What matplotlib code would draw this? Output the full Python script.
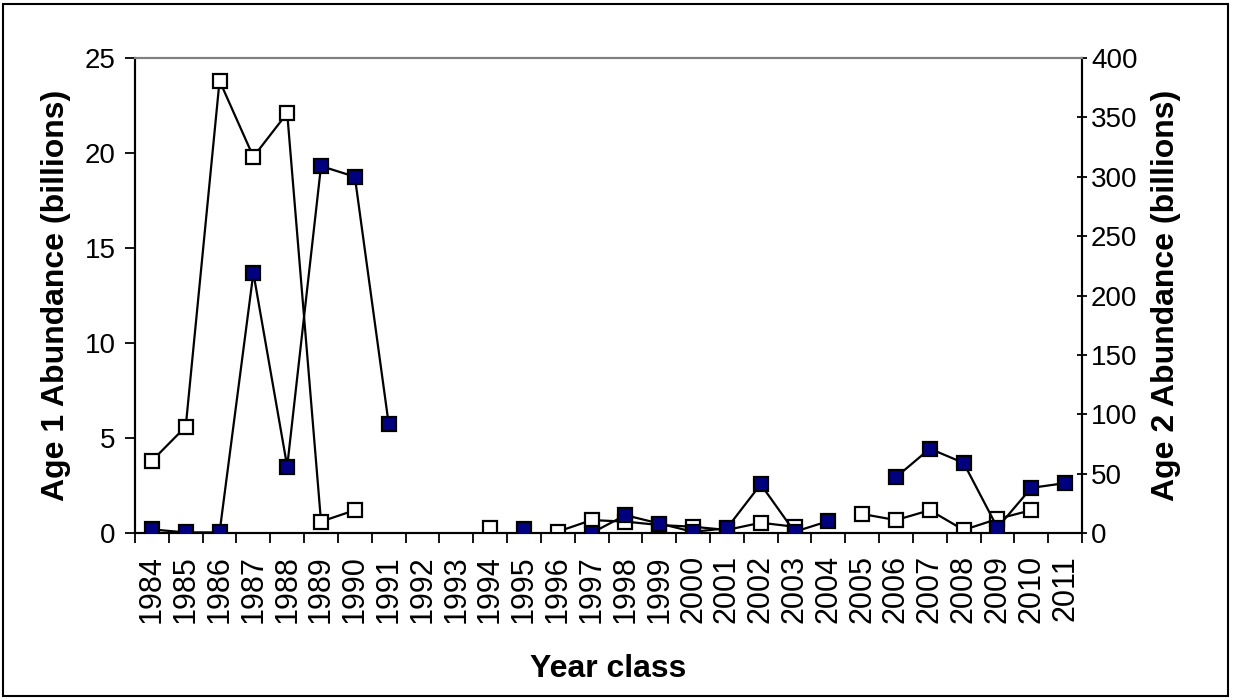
import numpy as np
import matplotlib.pyplot as plt
from matplotlib.patches import Rectangle

plt.rcParams["font.family"] = ["Liberation Sans", "DejaVu Sans"]

# year classes 1984..2011
years = list(range(1984, 2012))

# open squares, left axis (billions)
age1 = [3.8, 5.6, 23.8, 19.8, 22.1, 0.6, 1.2, None, None, None,
        0.28, None, 0.07, 0.68, 0.6, 0.42, 0.33, 0.16, 0.54, 0.33,
        None, 1.0, 0.68, 1.2, 0.16, 0.74, 1.2, None]

# filled squares, right axis (billions)
age2 = [3, 0.5, 0.5, 219, 56, 309, 300, 92, None, None,
        None, 3, None, 0, 15, 8, 1, 4, 41, 1,
        10, None, 47, 71, 59, 4.5, 38, 42]


def to_arr(vals):
    return np.array([np.nan if v is None else v for v in vals], dtype=float)


x = np.arange(len(years))
y1 = to_arr(age1)
y2 = to_arr(age2)

fig = plt.figure(figsize=(12.33, 7), dpi=100)
ax = fig.add_axes([135 / 1233, 1 - 533 / 700, (1082 - 135) / 1233, (533 - 58) / 700])
ax2 = ax.twinx()

ax.plot(x, y1, color="black", lw=1.6, marker="s", ms=10,
        mfc="white", mec="black", mew=1.6, zorder=3)
ax2.plot(x, y2, color="black", lw=1.6, marker="s", ms=10,
         mfc="#000080", mec="black", mew=1.6, zorder=3)

ax.set_xlim(-0.5, len(years) - 0.5)
ax.set_ylim(0, 25)
ax2.set_ylim(0, 400)
ax.set_yticks(np.arange(0, 26, 5))
ax2.set_yticks(np.arange(0, 401, 50))

ax.set_xticks(x)
ax.set_xticklabels([str(y) for y in years], rotation=90, fontsize=22)
ax.set_xticks(np.arange(-0.5, len(years)), minor=True)
ax.tick_params(axis="x", which="major", length=0, pad=16)
ax.tick_params(axis="x", which="minor", length=7, width=1.3, direction="out")
ax.tick_params(axis="y", length=7, width=1.3, direction="out", labelsize=20, pad=7)
ax2.tick_params(axis="y", length=7, width=1.3, direction="inout", labelsize=20, pad=3)

for a in (ax, ax2):
    a.spines["top"].set_color("#808080")
    a.spines["top"].set_linewidth(1.5)
    for s in ("left", "right", "bottom"):
        a.spines[s].set_linewidth(1.5)

ax.set_xlabel("Year class", fontsize=23, fontweight="bold", labelpad=22)
ax.set_ylabel("Age 1 Abundance (billions)", fontsize=23, fontweight="bold", labelpad=10)
ax2.set_ylabel("Age 2 Abundance (billions)", fontsize=23, fontweight="bold", labelpad=10)

fig.patches.append(Rectangle((3 / 1233, 4 / 700), 1225 / 1233, 692 / 700,
                             transform=fig.transFigure, fill=False,
                             edgecolor="black", lw=1.5))

fig.savefig("out.png", dpi=100)
